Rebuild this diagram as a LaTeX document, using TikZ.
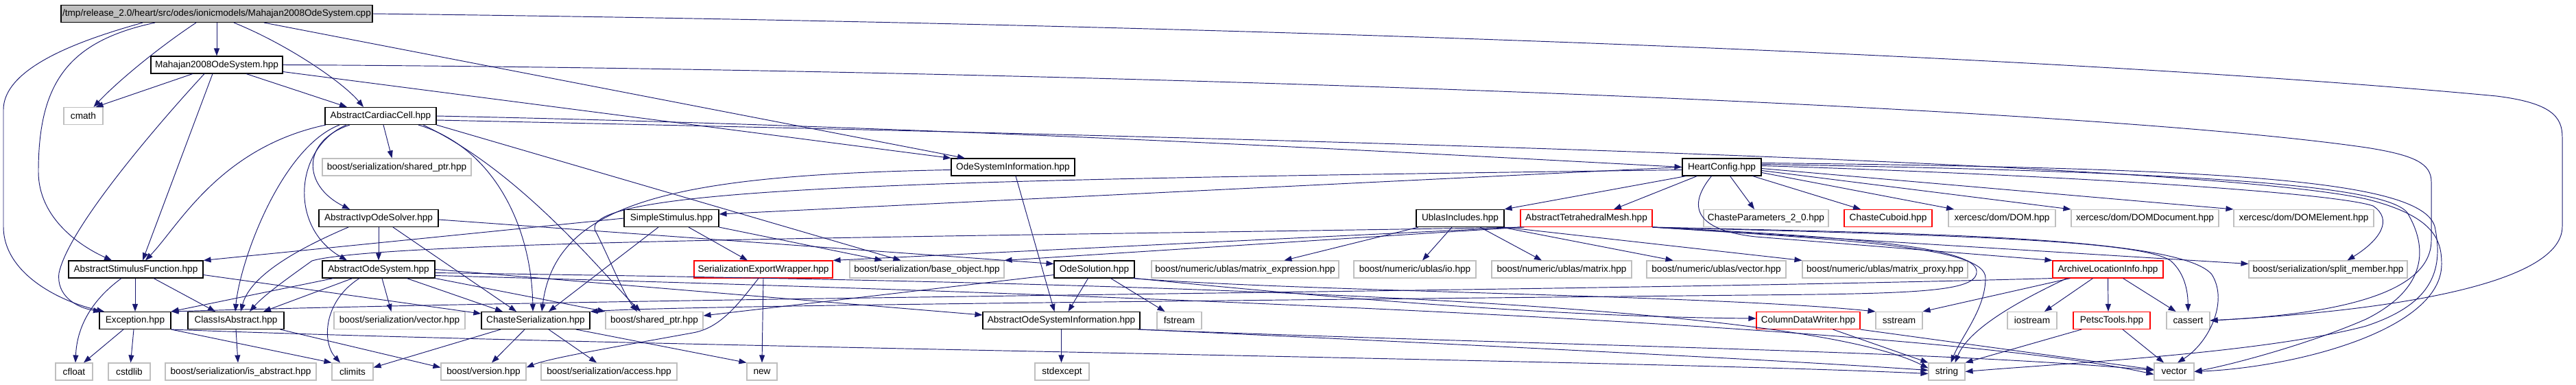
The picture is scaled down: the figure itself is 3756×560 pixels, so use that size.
\documentclass[tikz,border=0pt]{standalone}
\usepackage{fontspec}
\setmainfont{Liberation Sans}
\usetikzlibrary{arrows.meta}
\definecolor{edgec}{HTML}{191970}
\definecolor{grayb}{HTML}{BFBFBF}
\begin{document}
\begin{tikzpicture}[x=1pt,y=-1pt,
  nbox/.style={draw, rectangle, minimum height=25pt, inner sep=0pt, font=\fontsize{13.6}{15}\selectfont, line width=1.1pt},
  blk/.style={nbox, draw=black},
  gry/.style={nbox, draw=grayb, line width=1.1pt},
  rd/.style={nbox, draw=red},
  rootn/.style={nbox, draw=black, fill=grayb},
  dep/.style={draw=edgec, line width=0.95pt, -{Triangle[length=11pt,width=8pt]}}
]
\useasboundingbox (0,0) rectangle (3756,560);
% row 1-4
\node[rootn, minimum width=454pt] (root) at (316,20) {/tmp/release\_2.0/heart/src/odes/ionicmodels/Mahajan2008OdeSystem.cpp};
\node[blk, minimum width=192pt] (mahh) at (316,94.5) {Mahajan2008OdeSystem.hpp};
\node[gry, minimum width=57pt] (cmath) at (121.5,169) {cmath};
\node[blk, minimum width=162pt] (acc) at (555,169) {AbstractCardiacCell.hpp};
\node[gry, minimum width=217pt] (bsshared) at (578.5,243.5) {boost/serialization/shared\_ptr.hpp};
\node[blk, minimum width=180pt] (osi) at (1477,243.5) {OdeSystemInformation.hpp};
\node[blk, minimum width=115pt] (hc) at (2510.5,243.5) {HeartConfig.hpp};
% row 5
\node[blk, minimum width=174pt] (aivp) at (552,318) {AbstractIvpOdeSolver.hpp};
\node[blk, minimum width=138pt] (simple) at (979,318) {SimpleStimulus.hpp};
\node[blk, minimum width=128pt] (ublas) at (2129,318) {UblasIncludes.hpp};
\node[rd, minimum width=192pt] (atm) at (2313,318) {AbstractTetrahedralMesh.hpp};
\node[gry, minimum width=182pt] (cp) at (2575,318) {ChasteParameters\_2\_0.hpp};
\node[rd, minimum width=128pt] (cuboid) at (2753,318) {ChasteCuboid.hpp};
\node[gry, minimum width=156pt] (dom) at (2919,318) {xercesc/dom/DOM.hpp};
\node[gry, minimum width=215pt] (domdoc) at (3127.5,318) {xercesc/dom/DOMDocument.hpp};
\node[gry, minimum width=204pt] (domel) at (3359,318) {xercesc/dom/DOMElement.hpp};
% row 6
\node[blk, minimum width=196pt] (asf) at (198,392.5) {AbstractStimulusFunction.hpp};
\node[blk, minimum width=164pt] (aos) at (552,392.5) {AbstractOdeSystem.hpp};
\node[rd, minimum width=202pt] (sew) at (1113,392.5) {SerializationExportWrapper.hpp};
\node[gry, minimum width=225pt] (baseobj) at (1351.5,392.5) {boost/serialization/base\_object.hpp};
\node[blk, minimum width=117pt] (odesol) at (1595.5,392.5) {OdeSolution.hpp};
\node[gry, minimum width=273pt] (mexpr) at (1815.5,392.5) {boost/numeric/ublas/matrix\_expression.hpp};
\node[gry, minimum width=178pt] (uio) at (2063,392.5) {boost/numeric/ublas/io.hpp};
\node[gry, minimum width=204pt] (umatrix) at (2277,392.5) {boost/numeric/ublas/matrix.hpp};
\node[gry, minimum width=203pt] (uvector) at (2502.5,392.5) {boost/numeric/ublas/vector.hpp};
\node[gry, minimum width=241pt] (uproxy) at (2748.5,392.5) {boost/numeric/ublas/matrix\_proxy.hpp};
\node[rd, minimum width=161pt] (ali) at (3073.5,392.5) {ArchiveLocationInfo.hpp};
\node[gry, minimum width=231pt] (split) at (3394.5,392.5) {boost/serialization/split\_member.hpp};
% row 7
\node[blk, minimum width=104pt] (exc) at (197,467) {Exception.hpp};
\node[blk, minimum width=140pt] (cia) at (344,467) {ClassIsAbstract.hpp};
\node[gry, minimum width=191pt] (bsvector) at (582.5,467) {boost/serialization/vector.hpp};
\node[blk, minimum width=158pt] (cser) at (781,467) {ChasteSerialization.hpp};
\node[gry, minimum width=142pt] (bshared) at (954,467) {boost/shared\_ptr.hpp};
\node[blk, minimum width=229pt] (aosi) at (1547.5,467) {AbstractOdeSystemInformation.hpp};
\node[gry, minimum width=65pt] (fstream) at (1719.5,467) {fstream};
\node[rd, minimum width=151pt] (cdw) at (2636.5,467) {ColumnDataWriter.hpp};
\node[gry, minimum width=68pt] (sstream) at (2769,467) {sstream};
\node[gry, minimum width=72pt] (iostream) at (2963,467) {iostream};
\node[rd, minimum width=112pt] (petsc) at (3079,467) {PetscTools.hpp};
\node[gry, minimum width=63pt] (cassert) at (3190.5,467) {cassert};
% row 8
\node[gry, minimum width=54pt] (cfloat) at (108,541.5) {cfloat};
\node[gry, minimum width=61pt] (cstdlib) at (188.5,541.5) {cstdlib};
\node[gry, minimum width=220pt] (isabs) at (351,541.5) {boost/serialization/is\_abstract.hpp};
\node[gry, minimum width=60pt] (climits) at (514,541.5) {climits};
\node[gry, minimum width=124pt] (bversion) at (705,541.5) {boost/version.hpp};
\node[gry, minimum width=198pt] (access) at (888,541.5) {boost/serialization/access.hpp};
\node[gry, minimum width=44pt] (new) at (1111,541.5) {new};
\node[gry, minimum width=79pt] (stdexcept) at (1548.5,541.5) {stdexcept};
\node[gry, minimum width=53pt] (string) at (2838.5,541.5) {string};
\node[gry, minimum width=58pt] (vector) at (3170,541.5) {vector};

% ---- root
\draw[dep] (root) -- (mahh);
\draw[dep] ([xshift=-30pt]root.south) .. controls (230,70) and (170,120) .. ([xshift=15pt]cmath.north);
\draw[dep] ([xshift=25pt]root.south) .. controls (420,65) and (500,120) .. ([xshift=-25pt]acc.north);
\draw[dep] ([xshift=-90pt]root.south) .. controls (100,60) and (56,120) .. (56,250) .. controls (56,320) and (120,360) .. ([xshift=-35pt]asf.north);
\draw[dep] ([xshift=-108pt]root.south) .. controls (130,55) and (5,95) .. (5,160) -- (5,330) .. controls (5,400) and (90,440) .. ([xshift=-45pt]exc.north);
\draw[dep] ([xshift=69pt]root.south) -- ([xshift=-70pt]osi.north);
\draw[dep] (root.east) .. controls (1800,35) and (3000,80) .. (3640,140) .. controls (3720,150) and (3736,170) .. (3736,200) -- (3736,330) .. controls (3736,420) and (3450,455) .. (cassert.east);
% ---- mahh
\draw[dep] ([xshift=-35pt]mahh.south) -- ([xshift=18pt]cmath.north);
\draw[dep] ([xshift=43pt]mahh.south) -- ([xshift=-49pt]acc.north);
\draw[dep] ([xshift=-6pt]mahh.south) -- ([xshift=10pt]asf.north);
\draw[dep] ([xshift=-18pt]mahh.south) .. controls (240,170) and (100,330) .. (86,398) .. controls (82,430) and (110,448) .. ([xshift=-50pt]exc.north);
\draw[dep] (mahh.east) .. controls (1500,100) and (3000,150) .. (3450,215) .. controls (3520,226) and (3545,238) .. (3545,265) -- (3545,350) .. controls (3545,430) and (3400,458) .. (cassert.east);
\draw[dep] ([yshift=-10pt]mahh.east) -- (osi.north west);
% ---- acc
\draw[dep] ([xshift=4pt]acc.south) -- ([xshift=-7pt]bsshared.north);
\draw[dep] ([xshift=-45pt]acc.south) .. controls (440,205) and (440,270) .. ([xshift=-42pt]aivp.north);
\draw[dep] ([xshift=-50pt]acc.south) .. controls (430,215) and (420,330) .. ([xshift=-46pt]aos.north);
\draw[dep] ([xshift=-60pt]acc.south) .. controls (410,215) and (350,380) .. ([xshift=-1pt]cia.north);
\draw[dep] ([xshift=-80pt]acc.south) .. controls (320,215) and (260,330) .. ([xshift=14pt]asf.north);
\draw[dep] ([xshift=55pt]acc.south) .. controls (720,215) and (775,330) .. ([xshift=-4pt]cser.north);
\draw[dep] ([xshift=62pt]acc.south) .. controls (760,250) and (880,400) .. ([xshift=-20pt]bshared.north);
\draw[dep] (acc.south east) -- ([xshift=-38pt]baseobj.north);
\draw[dep] (acc.east) .. controls (1400,185) and (2100,225) .. (hc.west);
\draw[dep] ([yshift=-6pt]acc.east) .. controls (1800,200) and (3200,235) .. (3450,290) .. controls (3550,315) and (3560,350) .. (3560,385) .. controls (3560,480) and (3350,535) .. (vector.east);
% ---- osi
\draw[dep] ([xshift=4pt]osi.south) -- ([xshift=-10pt]aosi.north);
\draw[dep] ([yshift=-4pt]osi.west) .. controls (980,255) and (810,295) .. ([xshift=9pt]cser.north);
% ---- hc
\draw[dep] (hc.west) -- ([yshift=6pt]simple.east);
\draw[dep] ([xshift=-52pt]hc.south) -- (ublas.north east);
\draw[dep] ([xshift=-36pt]hc.south) -- ([xshift=40pt]atm.north);
\draw[dep] ([xshift=12pt]hc.south) -- ([xshift=-17pt]cp.north);
\draw[dep] ([xshift=45pt]hc.south) -- ([xshift=-40pt]cuboid.north);
\draw[dep] ([yshift=-8pt]hc.east) -- ([xshift=-70pt]dom.north);
\draw[dep] ([yshift=-5pt]hc.east) -- (domdoc.north west);
\draw[dep] ([yshift=-2pt]hc.east) -- (domel.north west);
\draw[dep] ([yshift=2pt]hc.east) .. controls (3000,255) and (3400,280) .. (3460,300) .. controls (3490,320) and (3470,350) .. ([xshift=28pt]split.north);
\draw[dep] ([xshift=-15pt]hc.south) .. controls (2460,300) and (2470,335) .. (2560,345) .. controls (2750,360) and (2900,372) .. (ali.north west);
\draw[dep] ([yshift=-4pt]hc.west) .. controls (1400,262) and (820,270) .. (870,340) .. controls (890,380) and (910,430) .. ([xshift=-25pt]bshared.north);
\draw[dep] ([yshift=4pt]hc.east) .. controls (3200,250) and (3480,270) .. (3510,310) .. controls (3540,360) and (3540,420) .. (3450,465) .. controls (3370,500) and (3260,530) .. (vector.east);
\draw[dep] ([yshift=6pt]hc.east) .. controls (3250,245) and (3530,262) .. (3550,330) .. controls (3565,400) and (3540,445) .. (3450,475) .. controls (3300,515) and (3000,530) .. (string.east);
% ---- ublas
\draw[dep] ([xshift=-61pt]ublas.south) -- ([xshift=57pt]mexpr.north);
\draw[dep] ([xshift=-12pt]ublas.south) -- ([xshift=11pt]uio.north);
\draw[dep] ([xshift=29pt]ublas.south) -- ([xshift=-29pt]umatrix.north);
\draw[dep] ([xshift=-4pt]ublas.south east) -- ([xshift=-63pt]uvector.north);
\draw[dep] (ublas.south east) -- (uproxy.north west);
% ---- atm
\draw[dep] (atm.south west) -- (sew.north east);
\draw[dep] ([xshift=3pt]atm.south west) -- (baseobj.north east);
\draw[dep] ([xshift=6pt]atm.south west) .. controls (1400,345) and (560,350) .. (455,380) .. controls (420,405) and (385,430) .. ([xshift=20pt]cia.north);
\draw[dep] (atm.south east) -- ([yshift=8pt]split.west);
\draw[dep] (atm.south east) .. controls (2700,350) and (2895,360) .. (2895,405) .. controls (2895,450) and (2860,490) .. ([xshift=6pt]string.north);
\draw[dep] (atm.south east) .. controls (2700,345) and (2880,360) .. (2882,395) .. controls (2884,425) and (2800,428) .. (2550,430) .. controls (1800,438) and (1000,445) .. (cser.north east);
\draw[dep] (atm.south east) .. controls (2800,342) and (3120,348) .. (3165,380) .. controls (3188,400) and (3190,430) .. (cassert.north);
\draw[dep] (atm.south east) .. controls (2800,340) and (3180,345) .. (3225,400) .. controls (3250,440) and (3220,500) .. ([xshift=5pt]vector.north);
% ---- simple
\draw[dep] (simple.west) -- (asf.north east);
\draw[dep] ([xshift=-19pt]simple.south) -- ([xshift=19pt]cser.north);
\draw[dep] ([xshift=25pt]simple.south) -- ([xshift=-23pt]sew.north);
\draw[dep] (simple.south east) -- ([xshift=-65pt]baseobj.north);
% ---- aivp
\draw[dep] ([xshift=-44pt]aivp.south) .. controls (440,360) and (365,400) .. ([xshift=7pt]cia.north);
\draw[dep] (aivp.south) -- (aos.north);
\draw[dep] ([xshift=21pt]aivp.south) -- ([xshift=-28pt]cser.north);
\draw[dep] ([yshift=-2pt]aivp.east) -- ([yshift=8pt]odesol.west);
% ---- asf
\draw[dep] ([xshift=-1pt]asf.south) -- (exc.north);
\draw[dep] ([xshift=26pt]asf.south) -- ([xshift=-30pt]cia.north);
\draw[dep] ([xshift=-21pt]asf.south) .. controls (130,440) and (112,480) .. ([xshift=2pt]cfloat.north);
\draw[dep] ([yshift=-8pt]asf.east) -- ([yshift=10pt]cser.west);
% ---- aos
\draw[dep] ([xshift=-66pt]aos.south) -- (exc.north east);
\draw[dep] ([xshift=-38pt]aos.south) -- ([xshift=40pt]cia.north);
\draw[dep] ([xshift=-28pt]aos.south) .. controls (470,440) and (470,500) .. ([xshift=-18pt]climits.north);
\draw[dep] ([xshift=5pt]aos.south) -- ([xshift=-12pt]bsvector.north);
\draw[dep] ([xshift=41pt]aos.south) -- ([xshift=-48pt]cser.north);
\draw[dep] (aos.south east) -- (bshared.north west);
\draw[dep] (aos.east) -- ([yshift=8pt]aosi.west);
\draw[dep] ([yshift=-5pt]aos.east) .. controls (1500,410) and (2600,430) .. ([yshift=5pt]string.west);
\draw[dep] ([yshift=-9pt]aos.east) .. controls (1500,425) and (2800,470) .. ([yshift=-4pt]vector.west);
% ---- sew
\draw[dep] (sew.south) -- (new.north);
\draw[dep] ([xshift=-7pt]sew.south) .. controls (1075,445) and (1050,478) .. (1010,485) .. controls (900,505) and (800,522) .. ([yshift=6pt]bversion.east);
% ---- odesol
\draw[dep] ([xshift=-9pt]odesol.south) -- ([xshift=10pt]aosi.north);
\draw[dep] ([xshift=24pt]odesol.south) -- ([xshift=-21pt]fstream.north);
\draw[dep] ([yshift=-8pt]odesol.west) -- ([yshift=7pt]bshared.east);
\draw[dep] (odesol.south east) .. controls (2000,440) and (2300,462) .. ([yshift=3pt]cdw.west);
\draw[dep] ([xshift=-3pt]odesol.south east) .. controls (1900,425) and (2500,430) .. (sstream.north west);
% ---- aosi
\draw[dep] (aosi.south) -- ([xshift=-1pt]stdexcept.north);
\draw[dep] (aosi.south east) .. controls (2200,505) and (2600,525) .. ([yshift=2pt]string.west);
\draw[dep] ([xshift=-3pt]aosi.south east) .. controls (2300,505) and (2800,510) .. ([yshift=2pt]vector.west);
% ---- cdw
\draw[dep] ([xshift=36pt]cdw.south) -- (string.north west);
\draw[dep] (cdw.south east) -- ([yshift=3pt]vector.west);
% ---- ali
\draw[dep] ([xshift=-55pt]ali.south) -- (sstream.north east);
\draw[dep] ([xshift=-60pt]ali.south) .. controls (2940,440) and (2870,480) .. ([xshift=12pt]string.north);
\draw[dep] ([xshift=-22pt]ali.south) -- ([xshift=18pt]iostream.north);
\draw[dep] (ali.south) -- ([xshift=-5pt]petsc.north);
\draw[dep] ([xshift=22pt]ali.south) -- ([xshift=-18pt]cassert.north);
\draw[dep] (ali.south west) .. controls (2300,425) and (1000,432) .. (exc.north east);
% ---- petsc
\draw[dep] ([xshift=-44pt]petsc.south) -- (string.north east);
\draw[dep] ([xshift=16pt]petsc.south) -- ([xshift=-15pt]vector.north);
% ---- cia
\draw[dep] (cia.south) -- ([xshift=-4pt]isabs.north);
\draw[dep] ([xshift=-6pt]cia.south east) -- ([yshift=6pt]bversion.west);
% ---- cser
\draw[dep] ([xshift=-51pt]cser.south) -- ([yshift=6pt]climits.east);
\draw[dep] ([xshift=-16pt]cser.south) -- ([xshift=12pt]bversion.north);
\draw[dep] ([xshift=19pt]cser.south) -- ([xshift=-18pt]access.north);
\draw[dep] ([xshift=59pt]cser.south) -- (new.north west);
% ---- exc
\draw[dep] ([xshift=-17pt]exc.south) -- ([xshift=14pt]cfloat.north);
\draw[dep] ([xshift=-2pt]exc.south) -- ([xshift=2pt]cstdlib.north);
\draw[dep] (exc.south east) -- (climits.north west);
\draw[dep] (exc.south east) .. controls (900,505) and (2400,525) .. ([yshift=-3pt]string.west);
\end{tikzpicture}
\end{document}
